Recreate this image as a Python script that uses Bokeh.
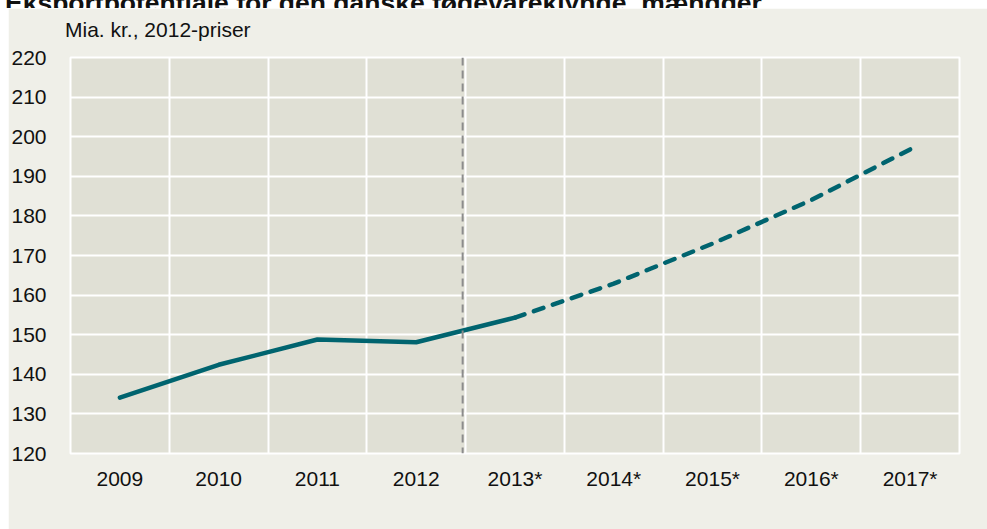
from bokeh.plotting import figure
from bokeh.models import Div, FixedTicker, Span, ColumnDataSource
from bokeh.layouts import column
from bokeh.embed import file_html
from bokeh.resources import INLINE

# ---- data ----
title_text = "Eksportpotentiale for den danske fødevareklynge, mængder"
unit_text = "Mia. kr., 2012-priser"
years = ["2009", "2010", "2011", "2012", "2013*", "2014*", "2015*", "2016*", "2017*"]
values = [134.1, 142.4, 148.8, 148.1, 154.3, 162.9, 173.0, 184.0, 196.8]
hist_count = 5          # 2009..2013 solid, 2013..2017 dashed
y_ticks = [120, 130, 140, 150, 160, 170, 180, 190, 200, 210, 220]
forecast_divider = 3.97  # between 2012 and 2013*

FONT = "Liberation Sans"
CSS_FONT = "'Liberation Sans', Arial, sans-serif"
TEAL = "#00646f"

xs = [i + 0.5 for i in range(len(years))]
solid = ColumnDataSource(dict(x=xs[:hist_count], y=values[:hist_count]))
dashed = ColumnDataSource(dict(x=xs[hist_count - 1:], y=values[hist_count - 1:]))

p = figure(width=979, height=521, x_range=(0, len(years)), y_range=(y_ticks[0], y_ticks[-1]),
           output_backend="svg", toolbar_location=None,
           min_border_left=60, min_border_right=28, min_border_top=49, min_border_bottom=76,
           background_fill_color="#e0e0d5", border_fill_color="#efefe8",
           outline_line_color="white", outline_line_width=2, margin=(0, 0, 0, 8))

# axes
p.xaxis.ticker = FixedTicker(ticks=xs)
p.xaxis.major_label_overrides = {x: y for x, y in zip(xs, years)}
p.yaxis.ticker = FixedTicker(ticks=y_ticks)
for ax in (p.xaxis[0], p.yaxis[0]):
    ax.axis_line_color = None
    ax.major_tick_line_color = None
    ax.minor_tick_line_color = None
    ax.major_label_text_font = FONT
    ax.major_label_text_font_size = "21px"
    ax.major_label_text_color = "#111111"
p.yaxis.major_label_standoff = 18
p.xaxis.major_label_standoff = 7

# grid
p.xgrid.ticker = FixedTicker(ticks=list(range(1, len(years))))
p.ygrid.ticker = FixedTicker(ticks=y_ticks)
for g in (p.xgrid[0], p.ygrid[0]):
    g.grid_line_color = "white"
    g.grid_line_width = 2

# forecast divider
p.add_layout(Span(location=forecast_divider, dimension="height", line_color="#8c8c8c",
                  line_width=2, line_dash="8 5"))

# lines
p.line("x", "y", source=solid, line_color=TEAL, line_width=4.5, line_cap="round", line_join="round")
p.line("x", "y", source=dashed, line_color=TEAL, line_width=4.5, line_cap="round",
       line_join="round", line_dash="10 10")

# page title (cut at the top edge, as in the source image)
title_html = (
    '<div style="margin-top:-17px; padding-left:5px; '
    f"font-family:{CSS_FONT}; font-weight:bold; font-size:26.5px; "
    'line-height:26.5px; white-space:nowrap; color:#111111;">' + title_text + '</div>'
)
title_div = Div(text=title_html, width=987, height=8, margin=0,
                styles={"overflow": "hidden"})

# unit text above the plot frame (overlay)
unit_html = (
    f'<div style="font-family:{CSS_FONT}; font-size:21px; line-height:21px; '
    'white-space:nowrap; color:#111111;">' + unit_text + '</div>'
)
unit_div = Div(text=unit_html, width=300, height=0, margin=0,
               styles={"transform": "translate(65px, -510px)", "position": "relative",
                       "z-index": "5", "overflow": "visible"})

layout = column(title_div, p, unit_div)
open("out.html", "w").write(file_html(layout, INLINE))
